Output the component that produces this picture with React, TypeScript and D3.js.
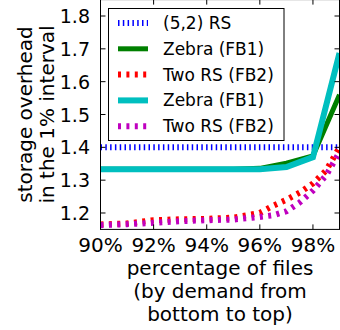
import React, { useEffect, useRef } from "react";
import * as d3 from "d3";

// x positions (percentage of files)
const xInt = [90, 91, 92, 93, 94, 95, 96, 97, 98, 99];
const xHalf = [90, 91, 92, 93, 94, 95, 96, 96.5, 97, 97.5, 98, 98.5, 99];

const rs52 = [1.4, 1.4, 1.4, 1.4, 1.4, 1.4, 1.4, 1.4, 1.4, 1.4];
const zebraFB1a = [1.333, 1.333, 1.333, 1.333, 1.333, 1.333, 1.336, 1.352, 1.374, 1.56];
const twoRSFB2a = [1.165, 1.168, 1.178, 1.181, 1.182, 1.186, 1.2, 1.222, 1.24, 1.262, 1.29, 1.33, 1.4];
const zebraFB1b = [1.333, 1.333, 1.333, 1.333, 1.333, 1.333, 1.333, 1.34, 1.37, 1.687];
const twoRSFB2b = [1.163, 1.166, 1.17, 1.175, 1.178, 1.18, 1.188, 1.193, 1.205, 1.232, 1.268, 1.315, 1.385];

const xTicks = [90, 92, 94, 96, 98];
const yTicks = [1.2, 1.3, 1.4, 1.5, 1.6, 1.7, 1.8];

const W = 340;
const H = 330;
const left = 100.5;
const right = 339.5;
const top = -0.4;
const bottom = 229.4;

type S = {
  name: string;
  xs: number[];
  ys: number[];
  color: string;
  width: number;
  dash?: string;
};

const series: S[] = [
  { name: "(5,2) RS", xs: xInt, ys: rs52, color: "#0000ff", width: 6, dash: "1.5 3.3" },
  { name: "Zebra (FB1)", xs: xInt, ys: zebraFB1a, color: "#008000", width: 5 },
  { name: "Two RS (FB2)", xs: xHalf, ys: twoRSFB2a, color: "#ff0000", width: 6, dash: "3 5.4" },
  { name: "Zebra (FB1)", xs: xInt, ys: zebraFB1b, color: "#00bfbf", width: 6 },
  { name: "Two RS (FB2)", xs: xHalf, ys: twoRSFB2b, color: "#bf00bf", width: 6, dash: "3 5.4" },
];

const App = () => {
  const ref = useRef<SVGGElement>(null);

  const x = d3.scaleLinear().domain([90, 99]).range([left, right]);
  const y = d3.scaleLinear().domain([1.15, 1.85]).range([bottom, top]);

  useEffect(() => {
    const g = d3.select(ref.current);
    g.selectAll("*").remove();

    const font = "DejaVu Sans";

    const plot = g.append("g").attr("clip-path", "url(#clip)");
    series.forEach((s) => {
      const line = d3
        .line<number>()
        .x((d, i) => x(s.xs[i]))
        .y((d) => y(d));
      plot
        .append("path")
        .attr("d", line(s.ys))
        .attr("fill", "none")
        .attr("stroke", s.color)
        .attr("stroke-width", s.width)
        .attr("stroke-dasharray", s.dash || null);
    });

    // frame
    g.append("rect")
      .attr("x", left)
      .attr("y", top)
      .attr("width", right - left)
      .attr("height", bottom - top)
      .attr("fill", "none")
      .attr("stroke", "black")
      .attr("stroke-width", 1);

    // ticks inside, mirrored
    xTicks.forEach((t) => {
      g.append("line")
        .attr("x1", x(t)).attr("x2", x(t))
        .attr("y1", bottom).attr("y2", bottom - 5)
        .attr("stroke", "black");
      g.append("line")
        .attr("x1", x(t)).attr("x2", x(t))
        .attr("y1", top).attr("y2", top + 5)
        .attr("stroke", "black");
      g.append("text")
        .attr("x", x(t))
        .attr("y", 252)
        .attr("text-anchor", "middle")
        .attr("font-family", font)
        .attr("font-size", 20)
        .text(d3.format(".0f")(t) + "%");
    });
    yTicks.forEach((t) => {
      g.append("line")
        .attr("x1", left).attr("x2", left + 5)
        .attr("y1", y(t)).attr("y2", y(t))
        .attr("stroke", "black");
      g.append("line")
        .attr("x1", right).attr("x2", right - 5)
        .attr("y1", y(t)).attr("y2", y(t))
        .attr("stroke", "black");
      g.append("text")
        .attr("x", 90)
        .attr("y", y(t) + 7)
        .attr("text-anchor", "end")
        .attr("font-family", font)
        .attr("font-size", 19)
        .text(d3.format(".1f")(t));
    });

    // axis labels
    const xl = ["percentage of files", "(by demand from", "bottom to top)"];
    xl.forEach((s, i) => {
      g.append("text")
        .attr("x", (left + right) / 2)
        .attr("y", 275 + i * 23)
        .attr("text-anchor", "middle")
        .attr("font-family", font)
        .attr("font-size", 20)
        .text(s);
    });
    const yl = ["storage overhead", "in the 1% interval"];
    yl.forEach((s, i) => {
      g.append("text")
        .attr("transform", `translate(${32 + i * 21.5},${(top + bottom) / 2}) rotate(-90)`)
        .attr("text-anchor", "middle")
        .attr("font-family", font)
        .attr("font-size", 20)
        .text(s);
    });

    // legend
    const lg = g.append("g");
    lg.append("rect")
      .attr("x", 108.5)
      .attr("y", 8.5)
      .attr("width", 175.5)
      .attr("height", 132)
      .attr("fill", "white")
      .attr("stroke", "black")
      .attr("stroke-width", 1);
    series.forEach((s, i) => {
      const cy = 23 + i * 25.8;
      lg.append("line")
        .attr("x1", 118).attr("x2", 148)
        .attr("y1", cy).attr("y2", cy)
        .attr("stroke", s.color)
        .attr("stroke-width", s.width)
        .attr("stroke-dasharray", s.dash || null);
      lg.append("text")
        .attr("x", 163)
        .attr("y", cy + 6)
        .attr("font-family", font)
        .attr("font-size", 17)
        .text(s.name);
    });
  }, []);

  return (
    <svg width={W} height={H} style={{ position: "absolute", left: 0, top: 0 }}>
      <defs>
        <clipPath id="clip">
          <rect x={left} y={top} width={right - left} height={bottom - top} />
        </clipPath>
      </defs>
      <rect width={W} height={H} fill="white" />
      <g ref={ref} />
    </svg>
  );
};

export default App;
